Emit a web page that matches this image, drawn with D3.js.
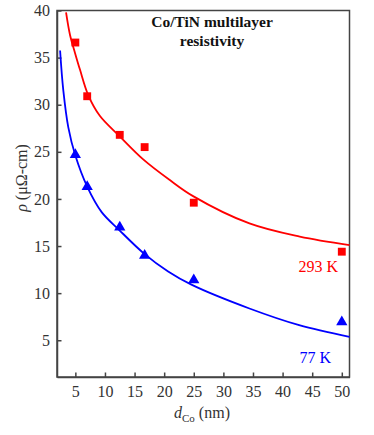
<!DOCTYPE html>
<head>
	<script src="https://d3js.org/d3.v7.min.js"></script>
	<style>
		body { margin: 0; background: #fff; }
		.axes text {
			font-family: "Liberation Serif", "DejaVu Serif", serif;
			font-size: 16px;
			fill: #333;
		}
		.axes path, .axes line { stroke: #444; stroke-width: 1.5; }
		.axes_titles {
			font-family: "Liberation Serif", "DejaVu Serif", serif;
			font-size: 16px;
			fill: #333;
		}
		.title {
			font-family: "Liberation Serif", "DejaVu Serif", serif;
			font-weight: bold;
			font-size: 15.5px;
			fill: #111;
		}
		.temp {
			font-family: "Liberation Serif", "DejaVu Serif", serif;
			font-size: 16px;
		}
	</style>
</head>

<body>
	<script>
		// measured points (d_Co in nm, rho in uOhm-cm)
		var dCo = [5, 7, 12.5, 16.7, 25, 50];
		var rho293 = [36.6, 30.9, 26.8, 25.5, 19.6, 14.4];
		var rho77 = [24.7, 21.3, 17.0, 14.0, 11.4, 6.95];

		// fitted curves
		var fitX293 = [3.43, 4.1, 4.94, 5.79, 7.19, 9.16, 12.41, 16.46, 20.96, 24.88, 34.4, 42.9, 51.3];
		var fitY293 = [39.8, 37.4, 35.5, 33.7, 31.0, 28.8, 26.7, 24.2, 22.0, 20.3, 17.4, 16.0, 15.1];
		var fitX77 = [2.42, 2.97, 3.81, 5.0, 7.0, 9.44, 12.41, 16.6, 20.67, 24.6, 34.4, 42.8, 51.3];
		var fitY77 = [35.76, 31.5, 27.6, 24.6, 21.3, 18.6, 16.7, 14.2, 12.3, 10.9, 8.37, 6.6, 5.36];

		var xTicks = [5, 10, 15, 20, 25, 30, 35, 40, 45, 50];
		var yTicks = [5, 10, 15, 20, 25, 30, 35, 40];

		var width = 374;
		var height = 435;
		var margin = { top: 10.5, right: 24.5, bottom: 58, left: 57 };

		var xScale = d3.scaleLinear()
			.domain([1.9, 51.3])
			.range([margin.left, width - margin.right]);
		var yScale = d3.scaleLinear()
			.domain([1.1, 40])
			.range([height - margin.bottom, margin.top]);

		var svg = d3.select("body")
			.append("svg")
			.attr("width", width)
			.attr("height", height);

		// frame
		svg.append("rect")
			.attr("x", margin.left)
			.attr("y", margin.top)
			.attr("width", width - margin.left - margin.right)
			.attr("height", height - margin.top - margin.bottom)
			.attr("fill", "none")
			.attr("stroke", "#444")
			.attr("stroke-width", 1.5);

		// axes, ticks pointing inward
		var xAxis = d3.axisBottom(xScale)
			.tickValues(xTicks)
			.tickSizeInner(-4.5)
			.tickSizeOuter(0)
			.tickPadding(9);
		var yAxis = d3.axisLeft(yScale)
			.tickValues(yTicks)
			.tickSizeInner(-4.5)
			.tickSizeOuter(0)
			.tickPadding(7);

		svg.append("g")
			.attr("class", "axes")
			.attr("transform", "translate(" + [0, height - margin.bottom] + ")")
			.call(xAxis)
			.attr("font-family", null)
			.attr("font-size", null);
		svg.append("g")
			.attr("class", "axes")
			.attr("transform", "translate(" + [margin.left, 0] + ")")
			.call(yAxis)
			.attr("font-family", null)
			.attr("font-size", null);

		// curves
		var line = d3.line()
			.x(function(d) { return xScale(d[0]); })
			.y(function(d) { return yScale(d[1]); })
			.curve(d3.curveCatmullRom);

		svg.append("path")
			.attr("d", line(d3.zip(fitX293, fitY293)))
			.attr("fill", "none")
			.attr("stroke", "#ff0000")
			.attr("stroke-width", 1.8);
		svg.append("path")
			.attr("d", line(d3.zip(fitX77, fitY77)))
			.attr("fill", "none")
			.attr("stroke", "#0000ff")
			.attr("stroke-width", 1.8);

		// markers
		svg.selectAll(".sq")
			.data(d3.zip(dCo, rho293))
			.enter()
			.append("path")
			.attr("class", "sq")
			.attr("d", d3.symbol().type(d3.symbolSquare).size(62))
			.attr("transform", function(d) { return "translate(" + [xScale(d[0]), yScale(d[1])] + ")"; })
			.attr("fill", "#ff0000");
		svg.selectAll(".tri")
			.data(d3.zip(dCo, rho77))
			.enter()
			.append("path")
			.attr("class", "tri")
			.attr("d", d3.symbol().type(d3.symbolTriangle).size(55))
			.attr("transform", function(d) { return "translate(" + [xScale(d[0]), yScale(d[1])] + ")"; })
			.attr("fill", "#0000ff");

		// temperature labels
		svg.append("text")
			.attr("class", "temp")
			.attr("x", 338)
			.attr("y", 272)
			.attr("text-anchor", "end")
			.attr("fill", "#ff0000")
			.text("293 K");
		svg.append("text")
			.attr("class", "temp")
			.attr("x", 331)
			.attr("y", 363)
			.attr("text-anchor", "end")
			.attr("fill", "#0000ff")
			.text("77 K");

		// title
		svg.append("text")
			.attr("class", "title")
			.attr("x", 212)
			.attr("y", 27)
			.attr("text-anchor", "middle")
			.text("Co/TiN multilayer");
		svg.append("text")
			.attr("class", "title")
			.attr("x", 212)
			.attr("y", 46)
			.attr("text-anchor", "middle")
			.text("resistivity");

		// axis titles
		var xt = svg.append("text")
			.attr("class", "axes_titles")
			.attr("x", 202)
			.attr("y", 418)
			.attr("text-anchor", "middle");
		xt.append("tspan").attr("font-style", "italic").text("d");
		xt.append("tspan").attr("font-size", "11px").attr("dy", 4).text("Co");
		xt.append("tspan").attr("dy", -4).text(" (nm)");

		var yt = svg.append("text")
			.attr("class", "axes_titles")
			.attr("transform", "translate(" + [27, 178] + ") rotate(-90)")
			.attr("text-anchor", "middle");
		yt.append("tspan").attr("font-style", "italic").text("\u03c1");
		yt.append("tspan").text(" (\u03bc\u03a9-cm)");
	</script>
</body>
</html>
